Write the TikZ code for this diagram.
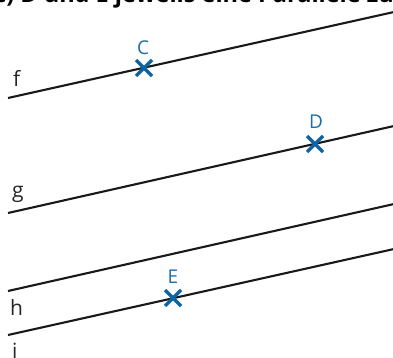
\documentclass[tikz,border=0pt]{standalone}
\usepackage{fontspec}
\setmainfont{Open Sans}
\definecolor{crossblue}{HTML}{0E63A3}
\definecolor{labelblue}{HTML}{1C6DAE}
\tikzset{
  par/.style={line width=2.1pt, black!90},
  crossmark/.style={line width=3.2pt, crossblue},
  ptlabel/.style={text=labelblue, font=\fontsize{19}{19}\selectfont, inner sep=0pt, anchor=base},
  linelabel/.style={text=black!85, font=\fontsize{21}{21}\selectfont, inner sep=0pt, anchor=base west},
}
\begin{document}
\begin{tikzpicture}[x=1pt,y=-1pt]
\clip (0,0) rectangle (393,358);
\useasboundingbox (0,0) rectangle (393,358);
% cut-off heading
\node[anchor=base west, inner sep=0pt, font=\fontsize{23.5}{23.5}\selectfont\bfseries] (head) at (-6,2.5) {c) D und E jeweils eine Parallele zu};
% lines
\coordinate (f1) at (8,98);   \coordinate (f2) at (394,12);
\coordinate (g1) at (8,213);  \coordinate (g2) at (394,126);
\coordinate (h1) at (8,291);  \coordinate (h2) at (394,204);
\coordinate (i1) at (8,335);  \coordinate (i2) at (394,249);
\draw[par] (f1) -- (f2);
\draw[par] (g1) -- (g2);
\draw[par] (h1) -- (h2);
\draw[par] (i1) -- (i2);
% line labels
\node[linelabel] (lf) at (13,87) {f};
\node[linelabel] (lg) at (12,197) {g};
\node[linelabel] (lh) at (10,315) {h};
\node[linelabel] (li) at (12,358) {i};
% points
\coordinate (C) at (144,68);
\coordinate (D) at (315,144);
\coordinate (E) at (173,298);
\foreach \p in {C,D,E}{
  \draw[crossmark] ([shift={(-8,-8)}]\p) -- ([shift={(8,8)}]\p);
  \draw[crossmark] ([shift={(-8,8)}]\p) -- ([shift={(8,-8)}]\p);
}
\node[ptlabel] (lC) at (143,55) {C};
\node[ptlabel] (lD) at (316,129) {D};
\node[ptlabel] (lE) at (173,283) {E};
\end{tikzpicture}
\end{document}
